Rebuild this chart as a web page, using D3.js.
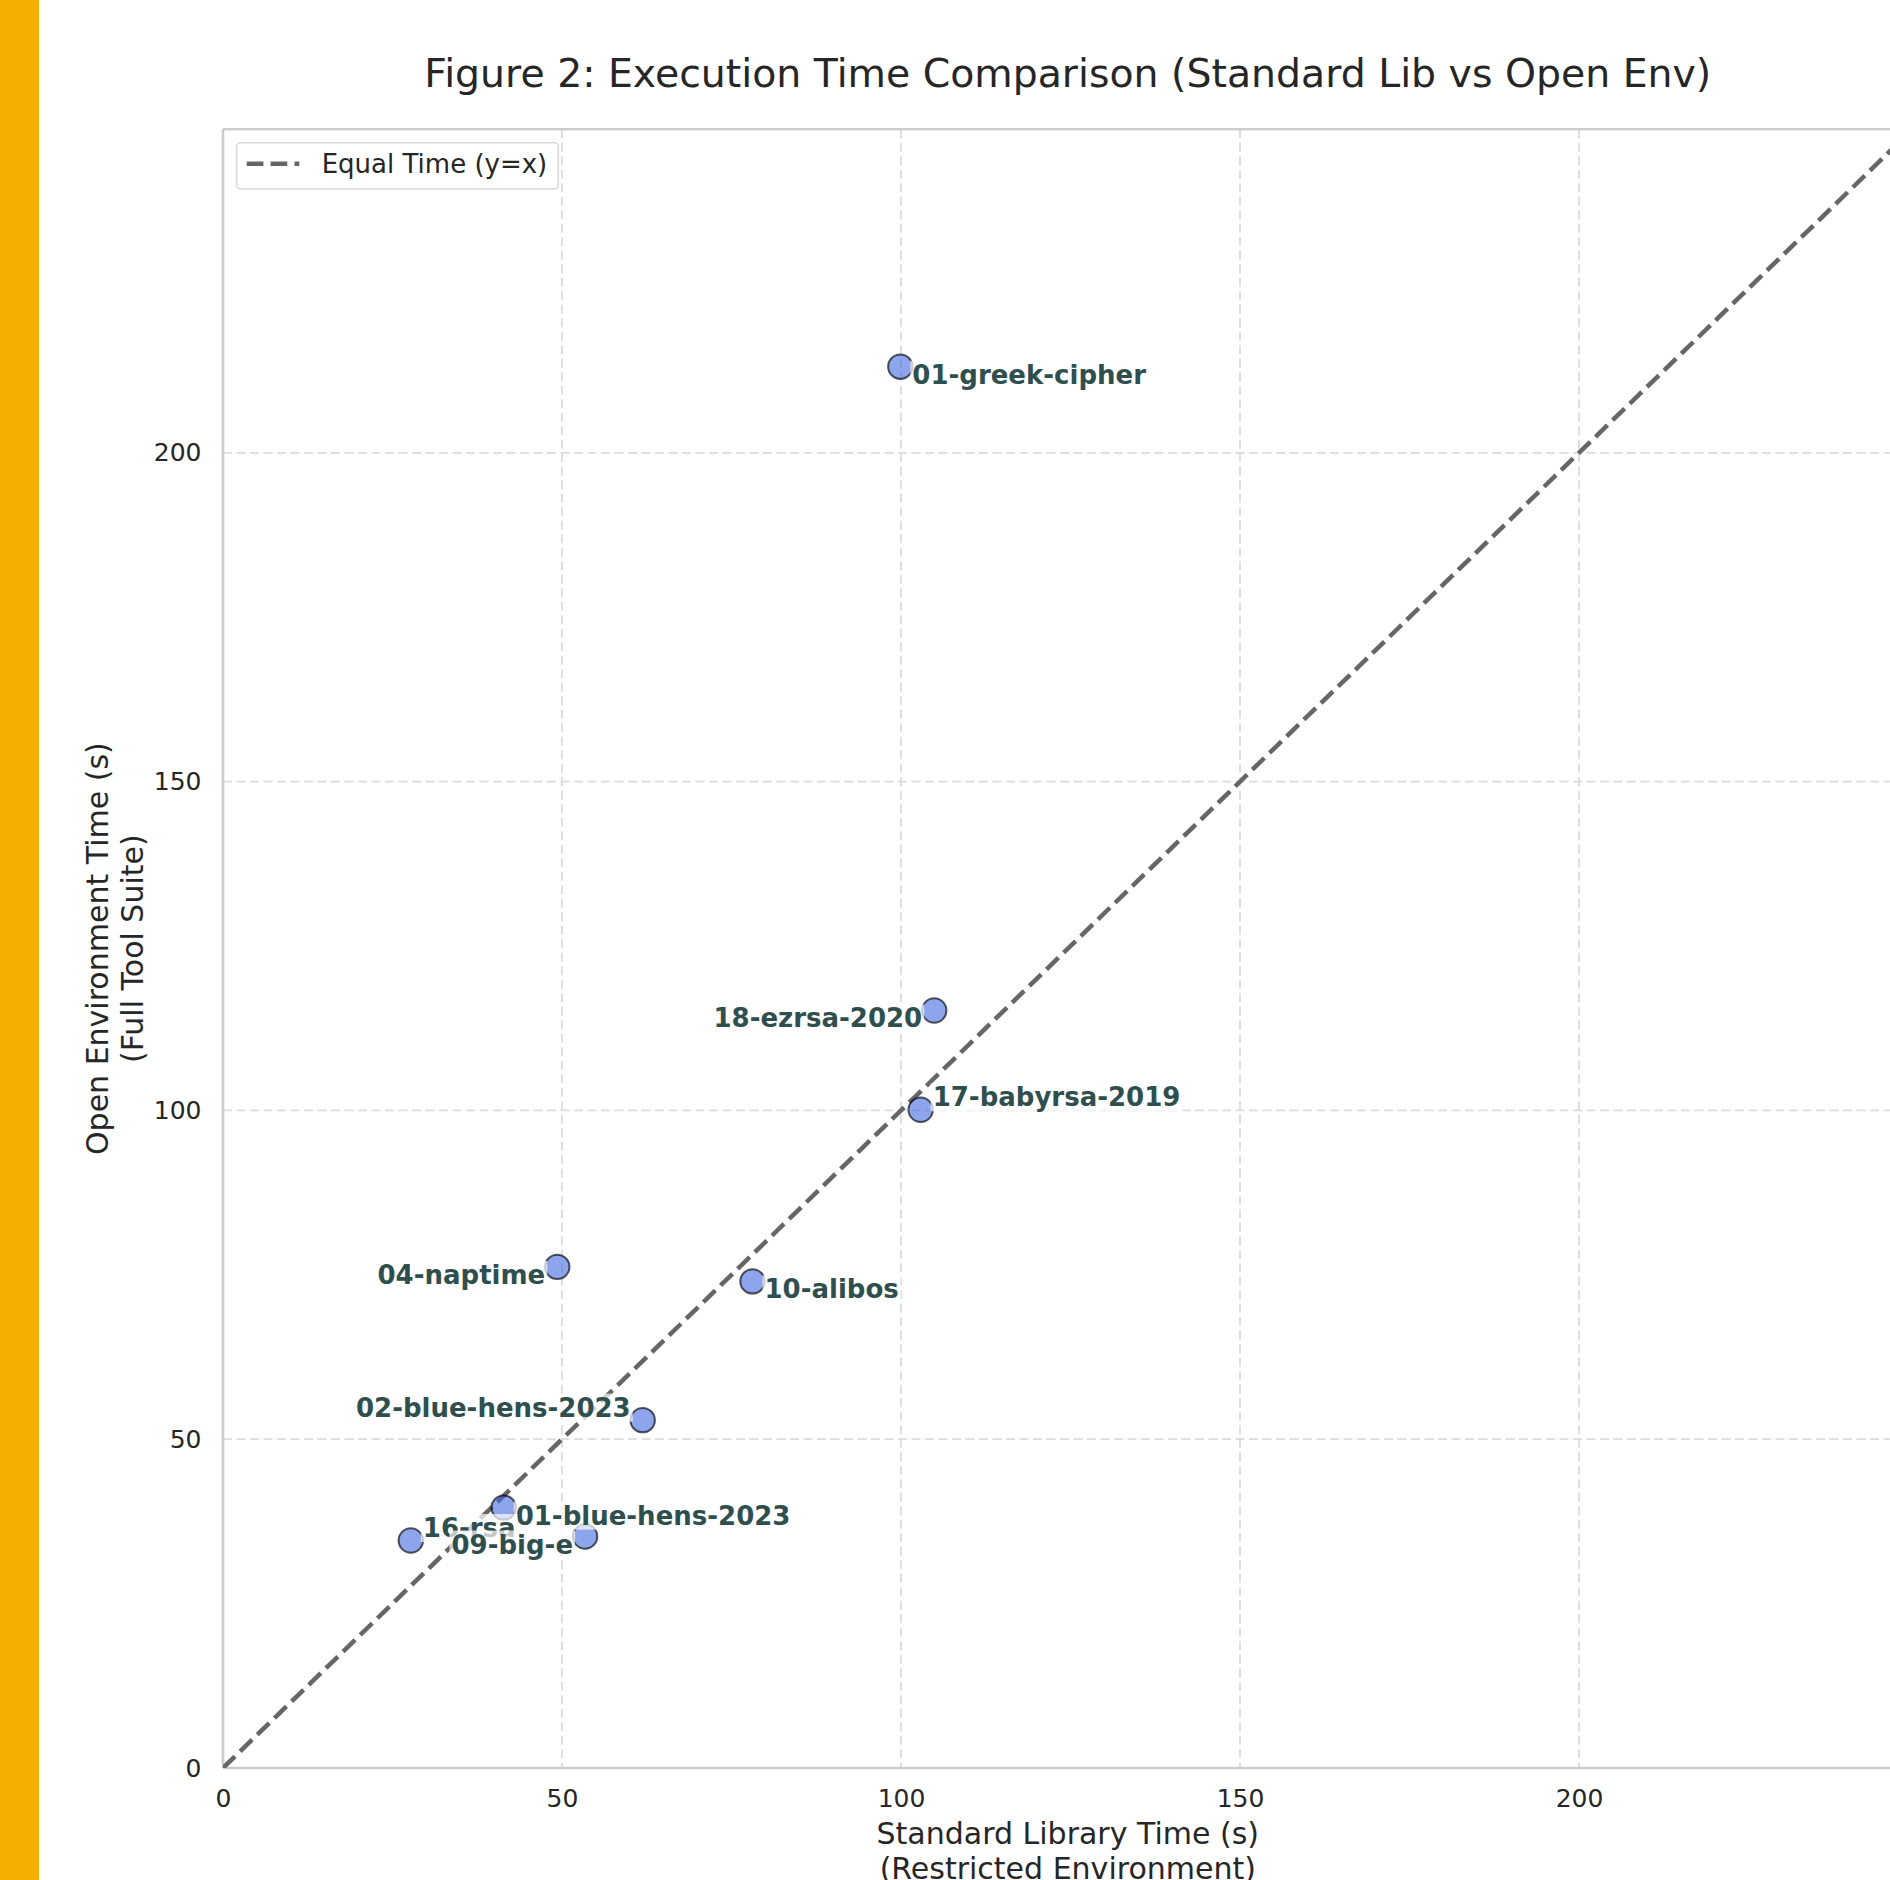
<!DOCTYPE html>
<html>
<head>
<meta charset="utf-8">
<script src="https://cdn.jsdelivr.net/npm/d3@7"></script>
<style>
  html, body { margin: 0; padding: 0; background: #ffffff; }
  svg { display: block; }
</style>
</head>
<body>
<svg id="chart" width="1890" height="1880"></svg>
<script>
// ---- data ----
const challenges = ["01-greek-cipher", "18-ezrsa-2020", "17-babyrsa-2019", "04-naptime", "10-alibos",
                    "02-blue-hens-2023", "01-blue-hens-2023", "16-rsa", "09-big-e"];
const stdLibTime = [99.9, 104.9, 102.9, 49.3, 78.1, 61.9, 41.4, 27.7, 53.4];
const openEnvTime = [213.1, 115.2, 100.1, 76.2, 74.0, 52.9, 39.6, 34.6, 35.2];
const xTicks = [0, 50, 100, 150, 200];
const yTicks = [0, 50, 100, 150, 200];
const axisMax = 249.2;

// ---- label placement (layout only) ----
const labelSide = ["right", "left", "right", "left", "right", "left", "right", "right", "left"];
const labelVert = ["below", "below", "above", "below", "below", "above", "below", "above", "below"];

// ---- layout ----
const W = 1890, H = 1880;
const plotLeft = 223, plotTop = 129.3, plotBottom = 1768;
const pxPerUnitX = 6.78;
const plotRight = plotLeft + axisMax * pxPerUnitX;

const svg = d3.select("#chart");
const font = "'DejaVu Sans', 'Liberation Sans', sans-serif";
const textColor = "#262626";

svg.append("rect").attr("x", 0).attr("y", 0).attr("width", W).attr("height", H).attr("fill", "#ffffff");
// left accent bar
svg.append("rect").attr("x", 0).attr("y", 0).attr("width", 39).attr("height", H).attr("fill", "#F4AF00");

const x = d3.scaleLinear().domain([0, axisMax]).range([plotLeft, plotRight]);
const y = d3.scaleLinear().domain([0, axisMax]).range([plotBottom, plotTop]);

svg.append("defs").append("clipPath").attr("id", "plotClip")
  .append("rect").attr("x", plotLeft).attr("y", plotTop)
  .attr("width", plotRight - plotLeft).attr("height", plotBottom - plotTop);

// grid
const grid = svg.append("g");
grid.selectAll("line.vx").data(xTicks.filter(d => d > 0)).join("line")
  .attr("x1", d => x(d)).attr("x2", d => x(d))
  .attr("y1", plotTop).attr("y2", plotBottom)
  .attr("stroke", "#dcdcdc").attr("stroke-width", 1.8).attr("stroke-dasharray", "9,4.5");
grid.selectAll("line.hy").data(yTicks.filter(d => d > 0)).join("line")
  .attr("y1", d => y(d)).attr("y2", d => y(d))
  .attr("x1", plotLeft).attr("x2", plotRight)
  .attr("stroke", "#dcdcdc").attr("stroke-width", 1.8).attr("stroke-dasharray", "9,4.5");

// spines
const spineColor = "#cccccc";
svg.append("line").attr("x1", plotLeft).attr("x2", plotLeft).attr("y1", plotTop).attr("y2", plotBottom)
  .attr("stroke", spineColor).attr("stroke-width", 2.6);
svg.append("line").attr("x1", plotLeft).attr("x2", plotRight).attr("y1", plotBottom).attr("y2", plotBottom)
  .attr("stroke", spineColor).attr("stroke-width", 2.6);
svg.append("line").attr("x1", plotLeft).attr("x2", plotRight).attr("y1", plotTop).attr("y2", plotTop)
  .attr("stroke", spineColor).attr("stroke-width", 2.6);
svg.append("line").attr("x1", plotRight).attr("x2", plotRight).attr("y1", plotTop).attr("y2", plotBottom)
  .attr("stroke", spineColor).attr("stroke-width", 2.6);

// axes
const xAxis = d3.axisBottom(x).tickValues(xTicks).tickSize(0).tickPadding(21).tickFormat(d3.format("d"));
const yAxis = d3.axisLeft(y).tickValues(yTicks).tickSize(0).tickPadding(21.5).tickFormat(d3.format("d"));
const gx = svg.append("g").attr("transform", `translate(0,${plotBottom})`).call(xAxis);
const gy = svg.append("g").attr("transform", `translate(${plotLeft},0)`).call(yAxis);
[gx, gy].forEach(g => {
  g.select(".domain").remove();
  g.selectAll("text").attr("font-family", font).attr("font-size", 25).attr("fill", textColor);
});

// diagonal y = x
const lineGen = d3.line().x(d => x(d)).y(d => y(d));
svg.append("path").datum([0, axisMax]).attr("d", lineGen)
  .attr("clip-path", "url(#plotClip)")
  .attr("fill", "none").attr("stroke", "#666666").attr("stroke-width", 4.5)
  .attr("stroke-dasharray", "16.7,7.2");

// points
const pts = challenges.map((name, i) => ({ name, sx: stdLibTime[i], oy: openEnvTime[i], side: labelSide[i], vert: labelVert[i] }));
svg.append("g").selectAll("circle").data(pts).join("circle")
  .attr("cx", d => x(d.sx)).attr("cy", d => y(d.oy)).attr("r", 12.2)
  .attr("fill", "#4169E1").attr("fill-opacity", 0.6)
  .attr("stroke", "#000000").attr("stroke-opacity", 0.65).attr("stroke-width", 2);

// labels with semi-transparent white boxes
const labG = svg.append("g");
pts.forEach(d => {
  const g = labG.append("g");
  const t = g.append("text")
    .attr("x", x(d.sx) + (d.side === "right" ? 12 : -12))
    .attr("y", y(d.oy) + (d.vert === "below" ? 17 : -3.5))
    .attr("text-anchor", d.side === "right" ? "start" : "end")
    .attr("font-family", font).attr("font-size", 26).attr("font-weight", "bold")
    .attr("fill", "#2F4F4F").text(d.name);
  const bb = t.node().getBBox();
  g.insert("rect", "text").attr("x", bb.x - 2).attr("y", bb.y + 1).attr("width", bb.width + 4).attr("height", bb.height - 2)
    .attr("fill", "#ffffff").attr("fill-opacity", 0.7);
});

// legend
const lg = svg.append("g");
lg.append("rect").attr("x", 236.7).attr("y", 142.7).attr("width", 321.6).attr("height", 46.3).attr("rx", 4)
  .attr("fill", "#ffffff").attr("fill-opacity", 0.8).attr("stroke", "#d9d9d9").attr("stroke-width", 1.6);
lg.append("line").attr("x1", 246.7).attr("x2", 299.3).attr("y1", 163.7).attr("y2", 163.7)
  .attr("stroke", "#666666").attr("stroke-width", 4.5).attr("stroke-dasharray", "16.7,7.2");
lg.append("text").attr("x", 321.7).attr("y", 173.3)
  .attr("font-family", font).attr("font-size", 26).attr("fill", textColor).text("Equal Time (y=x)");

// title
svg.append("text").attr("x", (plotLeft + plotRight) / 2).attr("y", 87)
  .attr("text-anchor", "middle").attr("font-family", font).attr("font-size", 39.4).attr("fill", textColor)
  .text("Figure 2: Execution Time Comparison (Standard Lib vs Open Env)");

// x axis label
const xl = svg.append("text").attr("text-anchor", "middle").attr("font-family", font).attr("font-size", 30).attr("fill", textColor);
xl.append("tspan").attr("x", (plotLeft + plotRight) / 2).attr("y", 1844).text("Standard Library Time (s)");
xl.append("tspan").attr("x", (plotLeft + plotRight) / 2).attr("y", 1879).text("(Restricted Environment)");

// y axis label
const yc = (plotTop + plotBottom) / 2;
const yl = svg.append("text").attr("text-anchor", "middle").attr("font-family", font).attr("font-size", 30).attr("fill", textColor)
  .attr("transform", `translate(0,${yc}) rotate(-90)`);
yl.append("tspan").attr("x", 0).attr("y", 108).text("Open Environment Time (s)");
yl.append("tspan").attr("x", 0).attr("y", 143).text("(Full Tool Suite)");
</script>
</body>
</html>
